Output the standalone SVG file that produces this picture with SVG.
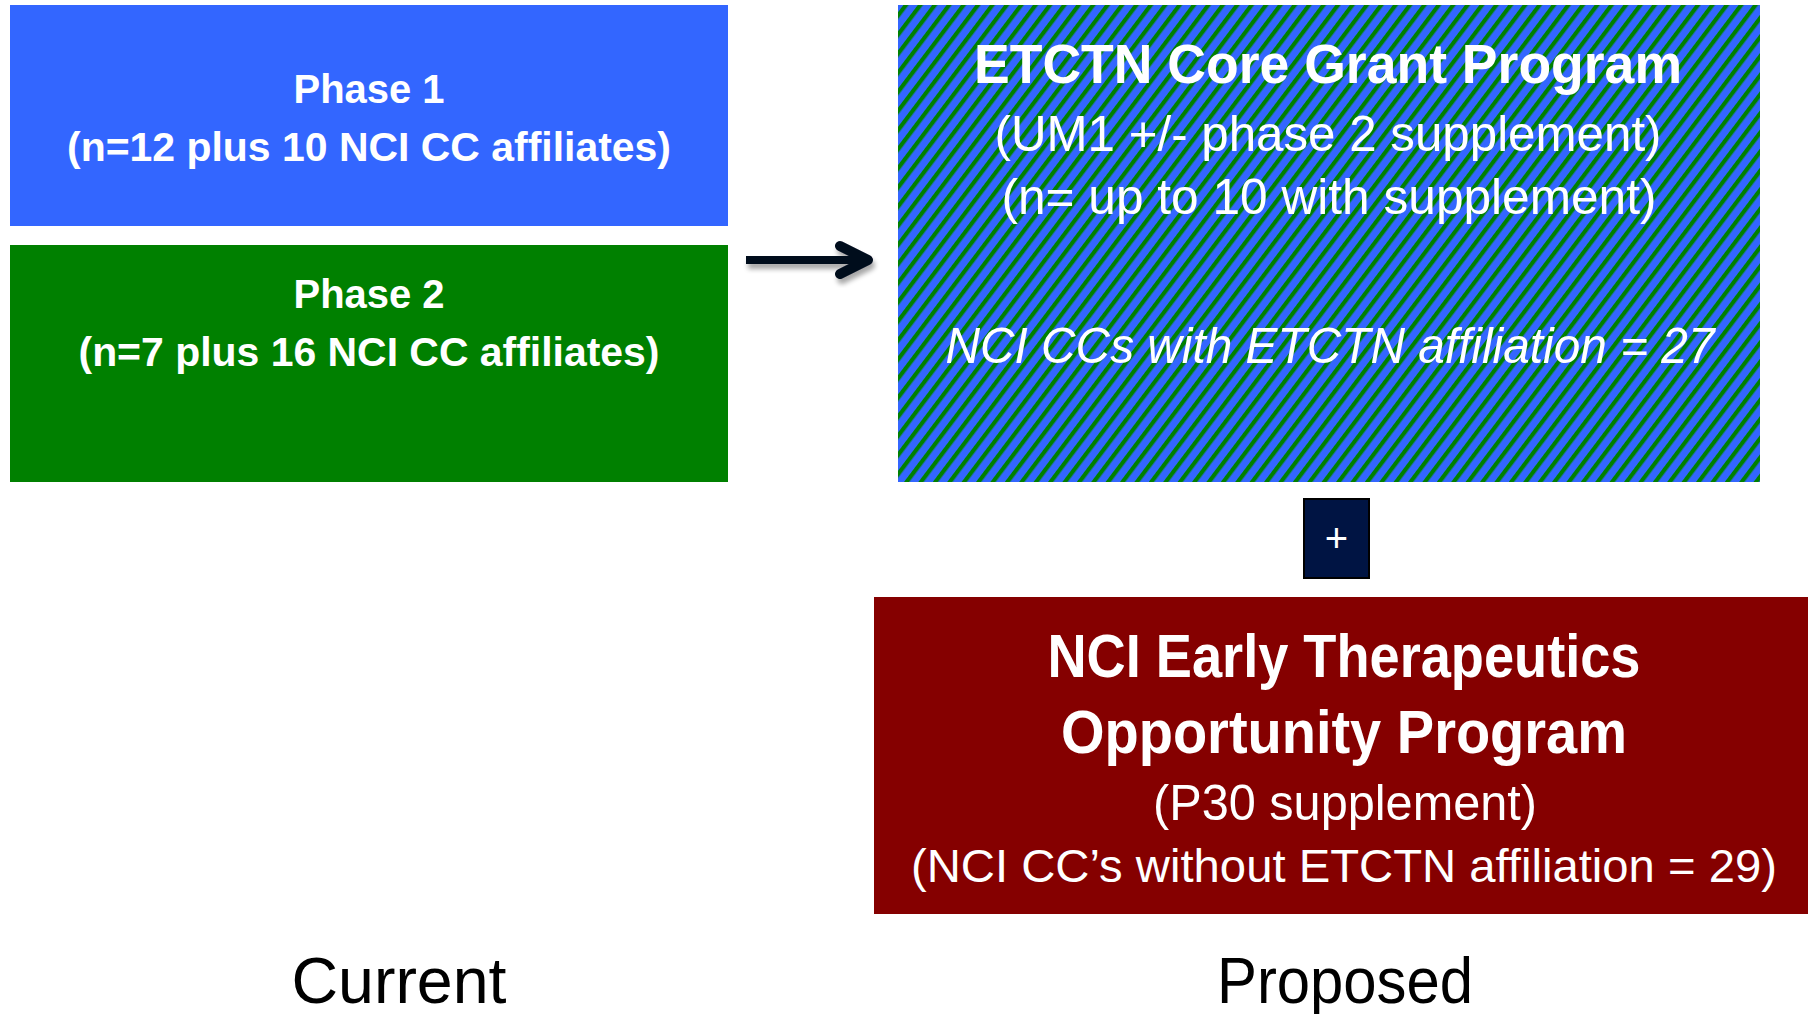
<svg xmlns="http://www.w3.org/2000/svg" width="1808" height="1014" viewBox="0 0 1808 1014">
<defs>
<pattern id="stripes" patternUnits="userSpaceOnUse" width="11.5" height="11.5" patternTransform="rotate(37)">
<rect width="11.5" height="11.5" fill="#3366FF"/>
<rect width="4.2" height="11.5" fill="#008000"/>
</pattern>
<filter id="shadow" x="-20%" y="-50%" width="140%" height="200%">
<feGaussianBlur in="SourceAlpha" stdDeviation="2.5"/>
<feOffset dx="2" dy="5" result="b"/>
<feComponentTransfer><feFuncA type="linear" slope="0.35"/></feComponentTransfer>
<feMerge><feMergeNode/><feMergeNode in="SourceGraphic"/></feMerge>
</filter>
</defs>
<style>
text{font-family:"Liberation Sans",Arial,sans-serif;fill:#fff;text-anchor:middle}
.b{font-weight:bold}
.lbl{fill:#000}
</style>
<rect width="1808" height="1014" fill="#fff"/>
<g id="phase1">
<rect x="10" y="5" width="718" height="221" fill="#3366FF"/>
<text class="b" x="369" y="103" font-size="40" textLength="151" lengthAdjust="spacingAndGlyphs">Phase 1</text>
<text class="b" x="369" y="161" font-size="40" textLength="604" lengthAdjust="spacingAndGlyphs">(n=12 plus 10 NCI CC affiliates)</text>
</g>
<g id="phase2">
<rect x="10" y="245" width="718" height="237" fill="#008000"/>
<text class="b" x="369" y="308" font-size="40" textLength="151" lengthAdjust="spacingAndGlyphs">Phase 2</text>
<text class="b" x="369" y="366" font-size="40" textLength="581" lengthAdjust="spacingAndGlyphs">(n=7 plus 16 NCI CC affiliates)</text>
</g>
<g id="etctn">
<rect x="898" y="5" width="862" height="477" fill="url(#stripes)"/>
<text class="b" x="1328" y="83" font-size="55" textLength="708" lengthAdjust="spacingAndGlyphs">ETCTN Core Grant Program</text>
<text x="1328" y="151" font-size="50" textLength="667" lengthAdjust="spacingAndGlyphs">(UM1 +/- phase 2 supplement)</text>
<text x="1329" y="214" font-size="50" textLength="655" lengthAdjust="spacingAndGlyphs">(n= up to 10 with supplement)</text>
<text x="1330" y="363" font-size="50" font-style="italic" textLength="769" lengthAdjust="spacingAndGlyphs">NCI CCs with ETCTN affiliation = 27</text>
</g>
<g id="plus">
<rect x="1304" y="499" width="65" height="79" fill="#001443" stroke="#000" stroke-width="2"/>
<text x="1336.5" y="552" font-size="40">+</text>
</g>
<g id="etop">
<rect x="874" y="597" width="934" height="317" fill="#850000"/>
<text class="b" x="1344" y="677" font-size="62" textLength="593" lengthAdjust="spacingAndGlyphs">NCI Early Therapeutics</text>
<text class="b" x="1344" y="753" font-size="62" textLength="566" lengthAdjust="spacingAndGlyphs">Opportunity Program</text>
<text x="1345" y="820" font-size="50" textLength="384" lengthAdjust="spacingAndGlyphs">(P30 supplement)</text>
<text x="1344" y="882" font-size="46" textLength="866" lengthAdjust="spacingAndGlyphs">(NCI CC’s without ETCTN affiliation = 29)</text>
</g>
<g id="labels">
<text class="lbl" x="399" y="1003" font-size="64" textLength="215" lengthAdjust="spacingAndGlyphs">Current</text>
<text class="lbl" x="1345" y="1003" font-size="64" textLength="256" lengthAdjust="spacingAndGlyphs">Proposed</text>
</g>
<g id="connectors" filter="url(#shadow)" stroke="#000a1e" fill="none" stroke-linecap="round" stroke-linejoin="round">
<line x1="746" y1="260" x2="866" y2="260" stroke-width="8" stroke-linecap="butt"/>
<polyline points="840,246 868,260 840,274" stroke-width="10"/>
</g>
</svg>
